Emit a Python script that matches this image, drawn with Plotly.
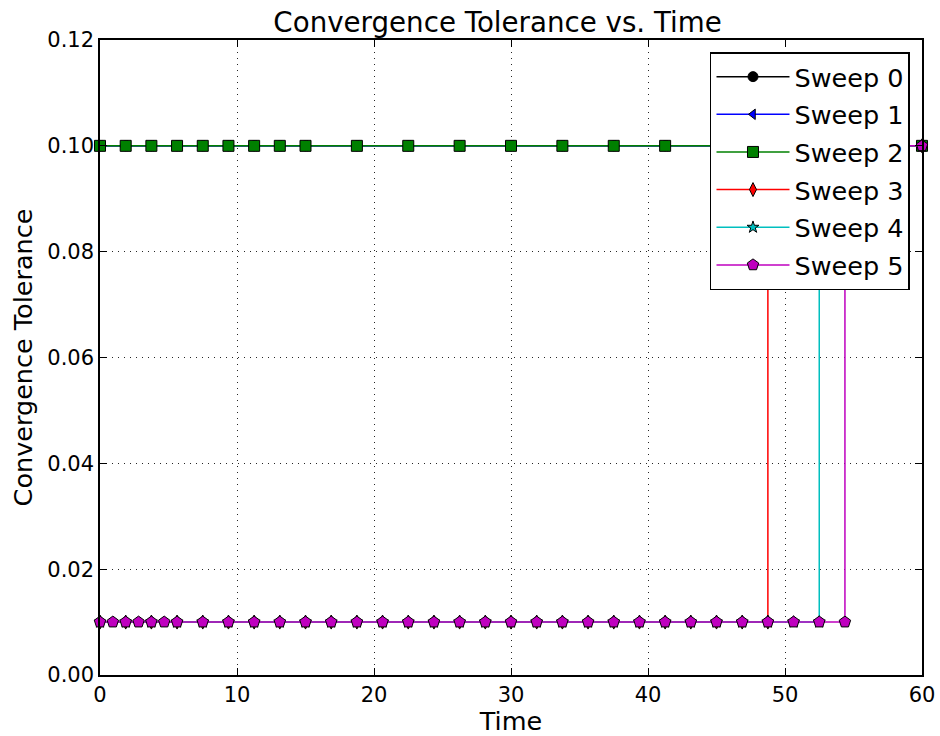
import plotly.graph_objects as go

# ---------------- data ----------------
sweep_names = ["Sweep 0", "Sweep 1", "Sweep 2", "Sweep 3", "Sweep 4", "Sweep 5"]

# Sweeps 0-2 share the same time grid, all at tolerance 0.1
time_top = [0, 1.875, 3.75, 5.625, 7.5, 9.375, 11.25, 13.125, 15, 18.75, 22.5,
            26.25, 30, 33.75, 37.5, 41.25, 45, 48.75, 52.5, 56.25, 60]
tol_top = [0.1, 0.1, 0.1, 0.1, 0.1, 0.1, 0.1, 0.1, 0.1, 0.1, 0.1,
           0.1, 0.1, 0.1, 0.1, 0.1, 0.1, 0.1, 0.1, 0.1, 0.1]

time_s3 = [0, 1.875, 3.75, 5.625, 7.5, 9.375, 11.25, 13.125, 15, 16.875, 18.75,
           20.625, 22.5, 24.375, 26.25, 28.125, 30, 31.875, 33.75, 35.625, 37.5,
           39.375, 41.25, 43.125, 45, 46.875, 48.75, 48.75, 60]
tol_s3 = [0.01, 0.01, 0.01, 0.01, 0.01, 0.01, 0.01, 0.01, 0.01, 0.01, 0.01,
          0.01, 0.01, 0.01, 0.01, 0.01, 0.01, 0.01, 0.01, 0.01, 0.01,
          0.01, 0.01, 0.01, 0.01, 0.01, 0.01, 0.1, 0.1]

time_s4 = [0, 1.875, 3.75, 5.625, 7.5, 9.375, 11.25, 13.125, 15, 16.875, 18.75,
           20.625, 22.5, 24.375, 26.25, 28.125, 30, 31.875, 33.75, 35.625, 37.5,
           39.375, 41.25, 43.125, 45, 46.875, 48.75, 50.625, 52.5, 52.5, 60]
tol_s4 = [0.01, 0.01, 0.01, 0.01, 0.01, 0.01, 0.01, 0.01, 0.01, 0.01, 0.01,
          0.01, 0.01, 0.01, 0.01, 0.01, 0.01, 0.01, 0.01, 0.01, 0.01,
          0.01, 0.01, 0.01, 0.01, 0.01, 0.01, 0.01, 0.01, 0.1, 0.1]

time_s5 = [0, 0.9375, 1.875, 2.8125, 3.75, 4.6875, 5.625, 7.5, 9.375, 11.25,
           13.125, 15, 16.875, 18.75, 20.625, 22.5, 24.375, 26.25, 28.125, 30,
           31.875, 33.75, 35.625, 37.5, 39.375, 41.25, 43.125, 45, 46.875, 48.75,
           50.625, 52.5, 54.375, 54.375, 60]
tol_s5 = [0.01, 0.01, 0.01, 0.01, 0.01, 0.01, 0.01, 0.01, 0.01, 0.01,
          0.01, 0.01, 0.01, 0.01, 0.01, 0.01, 0.01, 0.01, 0.01, 0.01,
          0.01, 0.01, 0.01, 0.01, 0.01, 0.01, 0.01, 0.01, 0.01, 0.01,
          0.01, 0.01, 0.01, 0.1, 0.1]

x_ticks = [0, 10, 20, 30, 40, 50, 60]
y_ticks = [0.00, 0.02, 0.04, 0.06, 0.08, 0.10, 0.12]

# ---------------- styles ----------------
series = [
    (time_top, tol_top, "#000000", "circle", 10),
    (time_top, tol_top, "#0000ff", "triangle-left", 9),
    (time_top, tol_top, "#008000", "square", 11),
    (time_s3, tol_s3, "#ff0000", "diamond-tall", 10),
    (time_s4, tol_s4, "#00bfbf", "star", 9),
    (time_s5, tol_s5, "#bf00bf", "pentagon", 12),
]

FONT = "DejaVu Sans"
fig = go.Figure()
for name, (xs, ys, col, sym, sz) in zip(sweep_names, series):
    fig.add_trace(go.Scatter(
        x=xs, y=ys, name=name, mode="lines+markers", legendgroup=name,
        line=dict(color=col, width=1.5),
        marker=dict(symbol=sym, size=sz, color=col, line=dict(color="black", width=1)),
        cliponaxis=False,
    ))

axis_common = dict(
    showline=True, linecolor="black", linewidth=1.5, mirror="ticks",
    ticks="inside", ticklen=7, tickwidth=1, tickcolor="black",
    showgrid=True, gridcolor="rgba(0,0,0,0.85)", gridwidth=1, griddash="1px,5px",
    zeroline=False, automargin=False,
    tickfont=dict(family=FONT, size=21, color="black"),
)

fig.update_xaxes(range=[0, 60], tickvals=x_ticks, ticktext=[str(v) for v in x_ticks],
                 title=dict(text="Time", font=dict(family=FONT, size=25.5, color="black"), standoff=0),
                 ticklabelstandoff=0, **axis_common)
fig.update_yaxes(range=[0, 0.12], tickvals=y_ticks, ticktext=["%.2f" % v for v in y_ticks],
                 title=dict(text="Convergence Tolerance", font=dict(family=FONT, size=25.5, color="black"), standoff=7),
                 ticklabelstandoff=0, **axis_common)

fig.update_layout(
    width=940, height=736,
    margin=dict(l=100, r=18, t=40, b=61, autoexpand=False),
    paper_bgcolor="white", plot_bgcolor="white",
    font=dict(family=FONT, color="black"),
    title=dict(text="Convergence Tolerance vs. Time", x=0.5293, xref="container", xanchor="center",
               y=0.970, yref="container", yanchor="middle",
               font=dict(family=FONT, size=27.7, color="black")),
    legend=dict(x=0.9854, y=0.981, xanchor="right", yanchor="top",
                bgcolor="white", bordercolor="black", borderwidth=1.5,
                font=dict(family=FONT, size=25.5, color="black"),
                tracegroupgap=1.5, itemwidth=73),
)

fig.write_html("out.html")
